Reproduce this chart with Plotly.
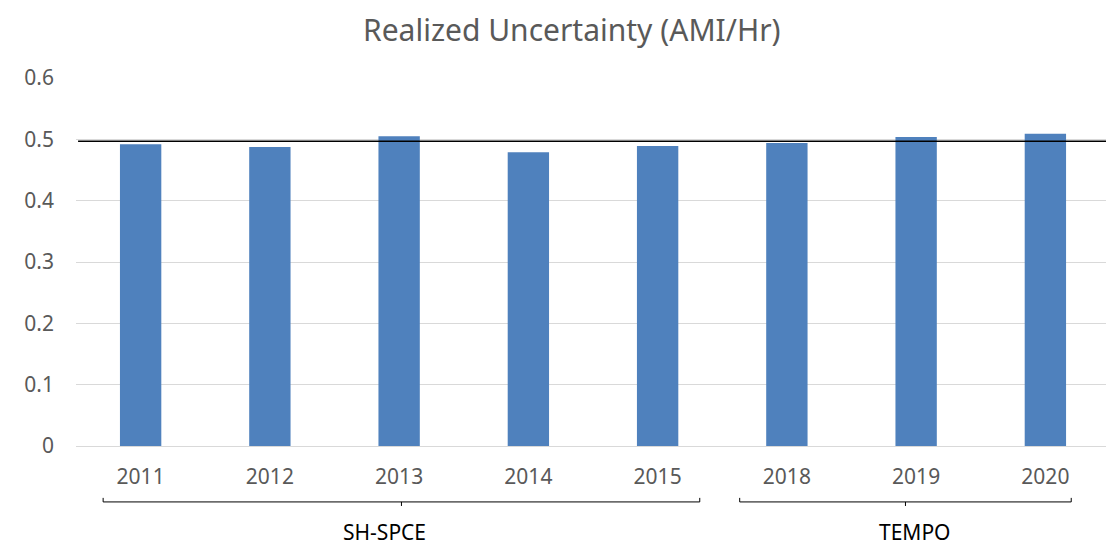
import plotly.graph_objects as go

years = ["2011", "2012", "2013", "2014", "2015", "2018", "2019", "2020"]
values = [0.492, 0.4875, 0.505, 0.479, 0.489, 0.494, 0.504, 0.509]
reference_level = 0.497
groups = ["SH-SPCE", "TEMPO"]
group_spans = [(-0.29, 4.326), (4.635, 7.20)]
group_label_pos = [1.89, 5.99]
y_ticks = [0, 0.1, 0.2, 0.3, 0.4, 0.5, 0.6]
y_tick_labels = ["0", "0.1", "0.2", "0.3", "0.4", "0.5", "0.6"]
chart_title = "Realized Uncertainty (AMI/Hr)"

font_family = "Noto Sans, Open Sans, sans-serif"
grey = "#595959"

fig = go.Figure()
fig.add_trace(go.Bar(x=years, y=values, marker=dict(color="#4F81BD", line=dict(width=0)),
                     width=0.32))

fig.add_shape(type="line", xref="paper", yref="y", x0=0.002, x1=0.998,
              y0=reference_level, y1=reference_level, line=dict(color="black", width=1.5))

yb = -0.152
for (a, b), name, lx in zip(group_spans, groups, group_label_pos):
    mid = (a + b) / 2
    fig.add_shape(type="path", xref="x", yref="paper",
                  path=f"M {a} {yb+0.011} L {a} {yb} L {b} {yb} L {b} {yb+0.011}",
                  line=dict(color="black", width=1))
    fig.add_shape(type="line", xref="x", yref="paper", x0=mid, x1=mid, y0=yb, y1=yb-0.011,
                  line=dict(color="black", width=1))
    fig.add_annotation(x=lx, y=-0.235, xref="x", yref="paper", text=name, showarrow=False,
                       font=dict(family=font_family, size=21, color="black"), yanchor="middle")

fig.add_annotation(x=0.48, y=1.133, xref="paper", yref="paper", text=chart_title, showarrow=False,
                   xanchor="center", yanchor="middle",
                   font=dict(family=font_family, size=30, color=grey))

fig.update_layout(
    width=1106, height=540,
    margin=dict(l=68, r=4, t=70, b=102),
    paper_bgcolor="white", plot_bgcolor="white",
    showlegend=False,
    xaxis=dict(type="category", range=[-0.5, 7.5], showgrid=False, showline=False, ticks="",
               tickfont=dict(family=font_family, size=21, color=grey), ticklabelstandoff=16),
    yaxis=dict(range=[0, 0.6], tickvals=y_ticks, ticktext=y_tick_labels, showgrid=True,
               gridcolor="#D9D9D9", gridwidth=1.3, zeroline=True, zerolinecolor="#D9D9D9",
               zerolinewidth=1.3, showline=False, ticks="",
               tickfont=dict(family=font_family, size=21, color=grey), ticklabelstandoff=21),
)

fig.write_html("out.html")
